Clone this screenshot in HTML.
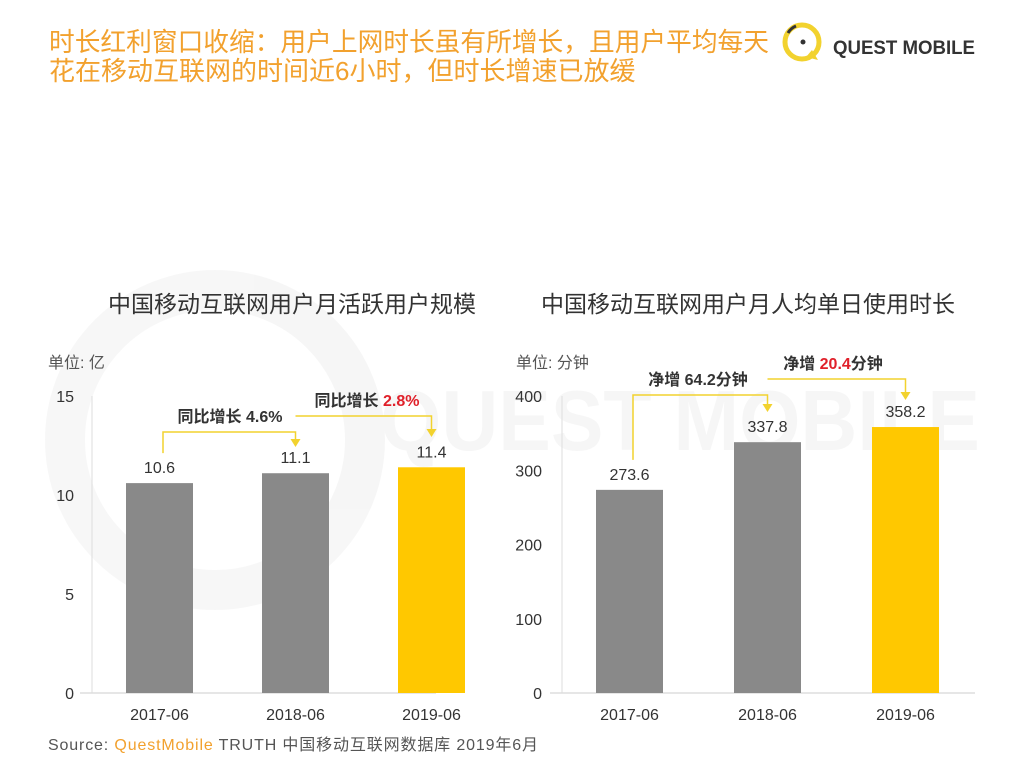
<!DOCTYPE html>
<html><head><meta charset="utf-8">
<style>
body{margin:0;width:1024px;height:768px;background:#fff;overflow:hidden;font-family:"Liberation Sans","Noto Sans CJK SC",sans-serif;}
</style></head>
<body>
<svg width="1024" height="768" xmlns="http://www.w3.org/2000/svg" style="font-family:'Liberation Sans','Noto Sans CJK SC',sans-serif">
  <g opacity="0.03">
    <circle cx="215" cy="440" r="150" fill="none" stroke="#000" stroke-width="40"/>
    <text x="380" y="450" font-size="85" font-weight="bold" fill="#000" textLength="600" lengthAdjust="spacingAndGlyphs">QUEST MOBILE</text>
  </g>
  <g fill="#F2A12E" font-size="26">
    <text x="49" y="51" textLength="720" lengthAdjust="spacingAndGlyphs">时长红利窗口收缩：用户上网时长虽有所增长，且用户平均每天</text>
    <text x="49" y="80">花在移动互联网的时间近6小时，但时长增速已放缓</text>
  </g>
  <g>
    <circle cx="802" cy="42" r="17" fill="none" stroke="#F2D22E" stroke-width="5"/>
    <path d="M806 57 L818 60 L812 50 Z" fill="#F2D22E"/>
    <circle cx="803" cy="42" r="2.5" fill="#333"/>
    <path d="M788 33 A16 16 0 0 1 796 26" stroke="#333" stroke-width="3" fill="none"/>
    <text x="833" y="54" font-size="19" fill="#333" font-weight="bold" textLength="142" lengthAdjust="spacingAndGlyphs">QUEST MOBILE</text>
  </g>
  <g id="charts"></g>
  <text x="48" y="750" font-size="16" fill="#555" textLength="490" lengthAdjust="spacing">Source:   <tspan fill="#F2A12E">QuestMobile</tspan> TRUTH 中国移动互联网数据库 2019年6月</text>
</svg>
<script>
const categories = ["2017-06","2018-06","2019-06"];
const usersValues = [10.6,11.1,11.4];
const usersLabels = ["10.6","11.1","11.4"];
const usersTicks = [0,5,10,15];
const timeValues = [273.6,337.8,358.2];
const timeLabels = ["273.6","337.8","358.2"];
const timeTicks = [0,100,200,300,400];
const barColors = ["#898989","#898989","#FFC800"];

const NS="http://www.w3.org/2000/svg";
const root=document.getElementById('charts');
function mk(tag,attrs,parent,text){const e=document.createElementNS(NS,tag);for(const k in attrs)e.setAttribute(k,attrs[k]);if(text!==undefined)e.textContent=text;(parent||root).appendChild(e);return e;}

function drawChart(cfg){
  const g=mk('g',{});
  
  
  const y0=693,yTop=396,maxV=cfg.ticks[cfg.ticks.length-1];
  const y=v=>y0-(v/maxV)*(y0-yTop);
  const x=i=>cfg.x0+i*cfg.step;
  const t=mk('text',{x:cfg.titleX,y:312,'font-size':23,fill:'#333','text-anchor':'middle'},g,cfg.title);
  
  
  const u=mk('text',{x:cfg.unitX,y:368,'font-size':16,fill:'#555'},g,cfg.unit);
  
  
  const ax=mk('line',{x1:cfg.axisX,y1:yTop,x2:cfg.axisX,y2:y0,stroke:'#ddd','stroke-width':1},g);
  
  
  const bl=mk('line',{x1:cfg.axisX-12,y1:y0,x2:cfg.baseEnd,y2:y0,stroke:'#ddd','stroke-width':1.5},g);
  
  
  cfg.ticks.forEach(v=>{
    const tk=mk('text',{x:cfg.tickX,y:y(v)+6,'font-size':16,fill:'#333','text-anchor':'end'},g,String(v));
    
    
  });
  cfg.values.forEach((v,i)=>{
    const b=mk('rect',{x:x(i),y:y(v),width:67,height:y0-y(v),fill:barColors[i]},g);
    
    
    const l=mk('text',{x:x(i)+33.5,y:y(v)-10,'font-size':16,fill:'#333','text-anchor':'middle'},g,cfg.labels[i]);
    
    
    const c=mk('text',{x:x(i)+33.5,y:720,'font-size':16,fill:'#333','text-anchor':'middle'},g,categories[i]);
    
    
  });
  cfg.anns.forEach((a,k)=>{
    const from=x(k)+(k===0?37:33.5), to=x(k+1)+33.5;
    const startY = k===0 ? y(cfg.values[0])-30 : a.hy;
    const p=mk('path',{d:`M${from} ${startY} L${from} ${a.hy} L${to} ${a.hy} L${to} ${a.tip-6}`,stroke:'#F2D22E','stroke-width':1.5,fill:'none'},g);
    
    
    const ar=mk('path',{d:`M${to-5} ${a.tip-8} L${to+5} ${a.tip-8} L${to} ${a.tip} Z`,fill:'#F2D22E'},g);
    
    
    const tx=mk('text',{x:a.tx,y:a.hy-10,'font-size':16,'font-weight':'bold',fill:'#333','text-anchor':'middle'},g);
    
    
    mk('tspan',{},tx,a.pre);
    mk('tspan',{fill:a.red?'#E0202A':'#333'},tx,a.num);
    if(a.post) mk('tspan',{},tx,a.post);
  });
}
drawChart({name:'users-chart',title:'中国移动互联网用户月活跃用户规模',titleX:292,unit:'单位: 亿',unitX:48,
  axisX:92,baseEnd:436,tickX:74,x0:126,step:136,values:usersValues,labels:usersLabels,ticks:usersTicks,
  anns:[{hy:432,tip:447,tx:230,pre:'同比增长 ',num:'4.6%',red:false},{hy:416,tip:437,tx:367,pre:'同比增长 ',num:'2.8%',red:true}]});
drawChart({name:'time-chart',title:'中国移动互联网用户月人均单日使用时长',titleX:748,unit:'单位: 分钟',unitX:516,
  axisX:562,baseEnd:975,tickX:542,x0:596,step:138,values:timeValues,labels:timeLabels,ticks:timeTicks,
  anns:[{hy:395,tip:412,tx:698,pre:'净增 ',num:'64.2',post:'分钟',red:false},{hy:379,tip:400,tx:833,pre:'净增 ',num:'20.4',post:'分钟',red:true}]});
</script>
</body></html>
